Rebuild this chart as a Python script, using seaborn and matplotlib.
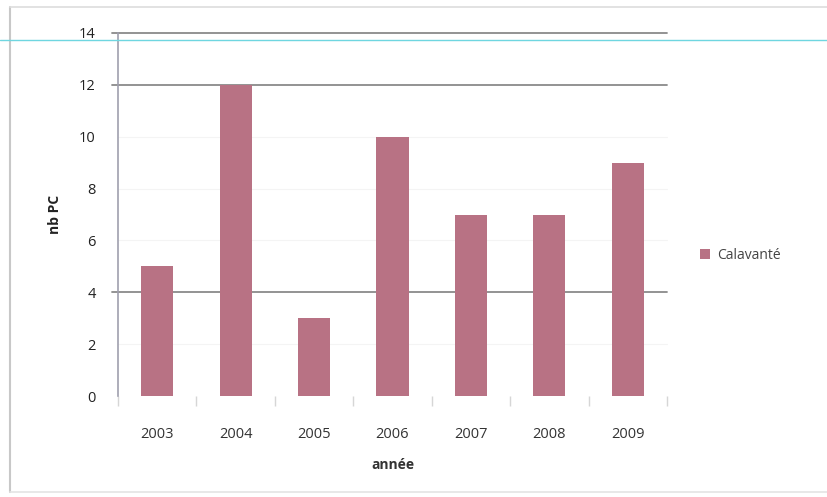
import matplotlib
matplotlib.use("Agg")
import matplotlib.pyplot as plt
from matplotlib.lines import Line2D
from matplotlib.patches import Patch
import seaborn as sns
import pandas as pd

annees = ["2003", "2004", "2005", "2006", "2007", "2008", "2009"]
nb_pc = [5, 12, 3, 10, 7, 7, 9]
serie = "Calavanté"
y_ticks = [0, 2, 4, 6, 8, 10, 12, 14]

df = pd.DataFrame({"année": annees, "nb PC": nb_pc})

sns.set_theme(style="white")
plt.rcParams["font.family"] = ["Open Sans", "DejaVu Sans"]

bar_color = "#b87284"
W, H = 828, 497
fig = plt.figure(figsize=(W / 100, H / 100), dpi=100)
ax = fig.add_axes([118 / W, (H - 396) / H, (667 - 118) / W, (396 - 33) / H])

sns.barplot(data=df, x="année", y="nb PC", color=bar_color, width=0.41,
            saturation=1, linewidth=0, ax=ax, zorder=3)

ax.set_ylim(0, 14)
ax.set_xlim(-0.5, len(annees) - 0.5)
ax.set_yticks(y_ticks)
ax.set_yticklabels([str(v) for v in y_ticks])

# horizontal gridlines: the major ones stronger, the rest barely visible
for v in y_ticks[1:]:
    strong = v in (4, 12, 14)
    ax.axhline(v, color="#8a8a8a" if strong else "#f4f4f4",
               lw=1.3 if strong else 0.8, zorder=1, clip_on=False)
    if strong:
        ax.plot([-0.58, -0.5], [v, v], color="#8a8a8a", lw=1.3,
                clip_on=False, zorder=1)

for s in ["top", "right", "bottom"]:
    ax.spines[s].set_visible(False)
ax.spines["left"].set_color("#a0a0ae")
ax.spines["left"].set_linewidth(1.2)

# category separators below the axis
ax.set_xticks([i + 0.5 for i in range(-1, len(annees))], minor=True)
ax.tick_params(axis="x", which="minor", length=7, color="#d6d6d6", width=1,
               bottom=True)
ax.tick_params(axis="x", which="major", length=0, pad=22, labelsize=10.5,
               labelcolor="#333333")
ax.tick_params(axis="y", length=0, pad=16, labelsize=10.5,
               labelcolor="#222222")

ax.set_xlabel("année", fontsize=10, fontweight="bold", color="#333333",
              labelpad=12)
ax.set_ylabel("nb PC", fontsize=10, fontweight="bold", color="#222222",
              labelpad=12)

handles = [Patch(facecolor=bar_color, edgecolor="none", label=serie)]
fig.legend(handles=handles, loc="center left",
           bbox_to_anchor=(688 / W, 1 - 255 / H), frameon=False,
           fontsize=10, handlelength=0.7, handleheight=0.7,
           handletextpad=0.5, labelcolor="#444444")

# chart frame
frame_col = "#c8c8c8"
fig.add_artist(Line2D([10 / W, 10 / W], [1 - 7 / H, 1 - 492 / H],
                      color=frame_col, lw=1.5))
fig.add_artist(Line2D([10 / W, 1.0], [1 - 7 / H, 1 - 7 / H],
                      color="#dddddd", lw=1.2))
fig.add_artist(Line2D([10 / W, 1.0], [1 - 492 / H, 1 - 492 / H],
                      color="#e4e4e4", lw=1.2))
# thin cyan rule across the page
fig.add_artist(Line2D([0, 1], [1 - 40 / H, 1 - 40 / H],
                      color="#6fd6e0", lw=1.0))

fig.savefig("out.png", dpi=100, facecolor="white")
